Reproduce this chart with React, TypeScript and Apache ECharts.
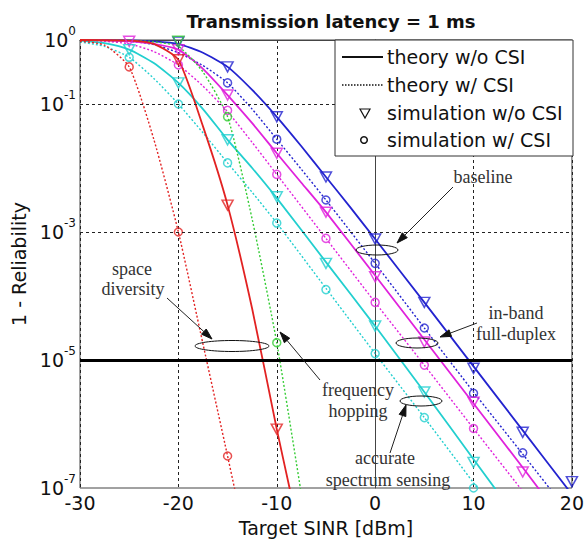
import React, { useEffect, useRef } from "react";
import * as echarts from "echarts";

// ---- axis ticks ----
const xTicks = [-30, -20, -10, 0, 10, 20];
const yLabelExponents = [0, -1, -3, -5, -7];
const dashedGridExponents = [-1, -3];
const thresholdExponent = -5;

// ---- theory curves: [Target SINR (dB), log10(1 - Reliability)] ----
const baselineTheoryNoCsi: [number, number][] = [
  [-30, 0], [-25, -0.005], [-22.5, -0.02], [-20, -0.06], [-17.5, -0.2], [-15, -0.42],
  [-12.5, -0.78], [-10, -1.2], [-7.5, -1.66], [-5, -2.14], [-2.5, -2.62], [0, -3.11],
  [5, -4.1], [10, -5.1], [15, -6.1], [20, -7.1],
];
const baselineTheoryCsi: [number, number][] = [
  [-30, 0], [-25, -0.02], [-22.5, -0.07], [-20, -0.2], [-17.5, -0.4], [-15, -0.67],
  [-12.5, -1.08], [-10, -1.55], [-7.5, -2.02], [-5, -2.5], [0, -3.49], [5, -4.5],
  [10, -5.5], [15, -6.47], [20, -7.45],
];
const ibfdTheoryNoCsi: [number, number][] = [
  [-30, 0], [-27.5, -0.005], [-25, -0.02], [-22.5, -0.06], [-20, -0.15], [-17.5, -0.45],
  [-15, -0.86], [-12.5, -1.3], [-10, -1.77], [-7.5, -2.23], [-5, -2.69], [0, -3.68],
  [5, -4.68], [10, -5.68], [15, -6.68], [20, -7.7],
];
const ibfdTheoryCsi: [number, number][] = [
  [-30, -0.005], [-27.5, -0.02], [-25, -0.06], [-22.5, -0.18], [-20, -0.39], [-17.5, -0.72],
  [-15, -1.12], [-12.5, -1.6], [-10, -2.1], [-5, -3.1], [0, -4.1], [5, -5.08],
  [10, -6.07], [15, -7.05],
];
const sensingTheoryNoCsi: [number, number][] = [
  [-30, -0.01], [-27.5, -0.05], [-25, -0.15], [-22.5, -0.36], [-20, -0.67], [-17.5, -1.08],
  [-15, -1.56], [-12.5, -2.0], [-10, -2.47], [-5, -3.47], [0, -4.47], [5, -5.5],
  [10, -6.55], [15, -7.6],
];
const sensingTheoryCsi: [number, number][] = [
  [-30, -0.03], [-27.5, -0.1], [-25, -0.27], [-22.5, -0.6], [-20, -1.0], [-17.5, -1.45],
  [-15, -1.92], [-12.5, -2.38], [-10, -2.86], [-5, -3.88], [0, -4.9], [5, -5.9],
  [10, -6.92], [12.5, -7.45],
];
const hoppingTheoryCsi: [number, number][] = [
  [-30, 0], [-25, -0.005], [-22.5, -0.03], [-20, -0.1], [-17.5, -0.5], [-15, -1.2],
  [-12.5, -2.8], [-10, -4.73], [-7.5, -7.1],
];
const diversityTheoryNoCsi: [number, number][] = [
  [-30, 0], [-25, -0.01], [-22.5, -0.06], [-20, -0.31], [-17.5, -1.35], [-15, -2.58],
  [-12.5, -4.2], [-10, -6.08], [-8.7, -7.0], [-8.3, -7.3],
];
const diversityTheoryCsi: [number, number][] = [
  [-30, -0.02], [-27.5, -0.08], [-25, -0.42], [-22.5, -1.55], [-20, -3.0], [-17.5, -4.75],
  [-15, -6.5], [-14.3, -7.0], [-14, -7.2],
];

// ---- simulation points ----
const baselineSimNoCsi: [number, number][] = [
  [-20, -0.03], [-15, -0.42], [-10, -1.2], [-5, -2.14], [0, -3.11], [5, -4.1],
  [10, -5.13], [15, -6.13], [20, -6.9],
];
const baselineSimCsi: [number, number][] = [
  [-15, -0.67], [-10, -1.55], [-5, -2.5], [0, -3.49], [5, -4.5], [10, -5.52], [15, -6.45],
];
const ibfdSimNoCsi: [number, number][] = [
  [-25, -0.02], [-20, -0.15], [-15, -0.86], [-10, -1.77], [-5, -2.69], [0, -3.7],
  [5, -4.72], [10, -5.66], [15, -6.75],
];
const ibfdSimCsi: [number, number][] = [
  [-20, -0.39], [-15, -1.1], [-10, -2.1], [-5, -3.1], [0, -4.1], [5, -5.08], [10, -6.07],
];
const sensingSimNoCsi: [number, number][] = [
  [-25, -0.15], [-20, -0.67], [-15, -1.56], [-10, -2.45], [-5, -3.49], [0, -4.47],
  [5, -5.5], [10, -6.6],
];
const sensingSimCsi: [number, number][] = [
  [-25, -0.27], [-20, -1.0], [-15, -1.92], [-10, -2.86], [-5, -3.9], [0, -4.9],
  [5, -5.9], [10, -7.0],
];
const hoppingSimNoCsi: [number, number][] = [[-20, -0.02]];
const hoppingSimCsi: [number, number][] = [[-15, -1.2], [-10, -4.73]];
const diversitySimNoCsi: [number, number][] = [[-20, -0.31], [-15, -2.58], [-10, -6.08]];
const diversitySimCsi: [number, number][] = [[-25, -0.42], [-20, -3.0], [-15, -6.5]];

const legendLabels = ["theory w/o CSI", "theory w/ CSI", "simulation w/o CSI", "simulation w/ CSI"];

const BLUE = "#2323cf";
const MAGENTA = "#e022dc";
const CYAN = "#22cfcf";
const GREEN = "#35cc35";
const RED = "#e22222";

const SANS = "DejaVu Sans";
const SERIF = "Liberation Serif";

function theory(name: string, data: [number, number][], color: string, dotted: boolean) {
  return {
    type: "line",
    name,
    data,
    smooth: 0.2,
    showSymbol: false,
    symbol: "none",
    silent: true,
    z: 3,
    lineStyle: { color, width: dotted ? 1.4 : 1.8, type: dotted ? [2, 2] : "solid" },
  };
}

function sim(name: string, data: [number, number][], color: string, triangle: boolean) {
  return {
    type: "scatter",
    name,
    data,
    silent: true,
    z: 4,
    symbol: triangle ? "triangle" : "circle",
    symbolRotate: triangle ? 180 : 0,
    symbolSize: triangle ? [11, 10] : 8,
    itemStyle: { color: "rgba(255,255,255,0)", borderColor: color, borderWidth: 1.5 },
  };
}

function arrow(x1: number, y1: number, x2: number, y2: number) {
  const dx = x2 - x1;
  const dy = y2 - y1;
  const len = Math.sqrt(dx * dx + dy * dy);
  const ux = dx / len;
  const uy = dy / len;
  const hl = 11;
  const hw = 3.5;
  const bx = x2 - ux * hl;
  const by = y2 - uy * hl;
  return [
    {
      type: "line",
      shape: { x1, y1, x2: bx, y2: by },
      style: { stroke: "#222", lineWidth: 1 },
      z: 100,
    },
    {
      type: "polygon",
      shape: {
        points: [
          [x2, y2],
          [bx - uy * hw, by + ux * hw],
          [bx + uy * hw, by - ux * hw],
        ],
      },
      style: { fill: "#111", stroke: "#111" },
      z: 100,
    },
  ];
}

function annoText(text: string, x: number, y: number) {
  return {
    type: "text",
    x,
    y,
    z: 100,
    style: {
      text,
      fontSize: 18,
      fontFamily: SERIF,
      fill: "#333",
      textAlign: "center",
      textVerticalAlign: "middle",
      align: "center",
      verticalAlign: "middle",
    },
  };
}

function ellipse(cx: number, cy: number, rx: number, ry: number) {
  return {
    type: "ellipse",
    z: 100,
    shape: { cx, cy, rx, ry },
    style: { fill: "none", stroke: "#111", lineWidth: 1 },
  };
}

function legendGraphic() {
  const x0 = 335;
  const y0 = 40;
  const rows = [57, 85, 113, 140];
  const els: any[] = [
    {
      type: "rect",
      z: 110,
      shape: { x: x0, y: y0, width: 238, height: 116 },
      style: { fill: "#fff", stroke: "#333", lineWidth: 1 },
    },
    {
      type: "line",
      z: 111,
      shape: { x1: 342, y1: rows[0], x2: 383, y2: rows[0] },
      style: { stroke: "#111", lineWidth: 1.8 },
    },
    {
      type: "line",
      z: 111,
      shape: { x1: 342, y1: rows[1], x2: 383, y2: rows[1] },
      style: { stroke: "#111", lineWidth: 1.3, lineDash: [1.5, 1.5] },
    },
    {
      type: "polygon",
      z: 111,
      shape: { points: [[360, rows[2] - 4], [370, rows[2] - 4], [365, rows[2] + 5]] },
      style: { fill: "none", stroke: "#111", lineWidth: 1.2 },
    },
    {
      type: "circle",
      z: 111,
      shape: { cx: 364, cy: rows[3], r: 3.3 },
      style: { fill: "none", stroke: "#111", lineWidth: 1.5 },
    },
  ];
  legendLabels.forEach((t, i) => {
    els.push({
      type: "text",
      z: 111,
      x: 387,
      y: rows[i],
      style: {
        text: t,
        fontSize: 19,
        fontFamily: SANS,
        fill: "#111",
        textAlign: "left",
        textVerticalAlign: "middle",
        align: "left",
        verticalAlign: "middle",
      },
    });
  });
  return els;
}

export default function App() {
  const ref = useRef<HTMLDivElement>(null);

  useEffect(() => {
    if (!ref.current) return;
    const chart = echarts.init(ref.current, undefined, { renderer: "svg" });

    const option: any = {
      animation: false,
      backgroundColor: "#fff",
      title: {
        text: "Transmission latency = 1 ms",
        left: 326,
        textAlign: "center",
        top: 7,
        textStyle: { fontFamily: SANS, fontWeight: "bold", fontSize: 18, color: "#111" },
      },
      grid: {
        left: 80,
        right: 14,
        top: 40,
        bottom: 57,
        show: true,
        borderColor: "#444",
        borderWidth: 1,
        backgroundColor: "#fff",
      },
      xAxis: {
        type: "value",
        min: xTicks[0],
        max: xTicks[xTicks.length - 1],
        interval: 10,
        name: "Target SINR [dBm]",
        nameLocation: "middle",
        nameGap: 30,
        nameTextStyle: { fontFamily: SANS, fontSize: 19, color: "#111" },
        axisLine: { show: true, lineStyle: { color: "#444", width: 1 } },
        axisTick: { show: false },
        axisLabel: { fontFamily: SANS, fontSize: 19, color: "#111", margin: 5 },
        splitLine: { show: true, lineStyle: { color: "#222", type: [3, 3], width: 1 } },
      },
      yAxis: {
        type: "value",
        min: -7,
        max: 0,
        interval: 1,
        name: "1 - Reliability",
        nameLocation: "middle",
        nameGap: 45,
        nameTextStyle: { fontFamily: SANS, fontSize: 19, color: "#111" },
        axisLine: { show: true, lineStyle: { color: "#444", width: 1 } },
        axisTick: { show: false },
        splitLine: { show: false },
        axisLabel: {
          margin: 4,
          formatter: (v: number) =>
            yLabelExponents.indexOf(Math.round(v)) >= 0 ? `{b|10}{s|${Math.round(v)}}` : "",
          rich: {
            b: { fontFamily: SANS, fontSize: 19, color: "#111", lineHeight: 30 },
            s: { fontFamily: SANS, fontSize: 12, color: "#111", verticalAlign: "top", lineHeight: 12 },
          },
        },
      },
      graphic: [
        ...legendGraphic(),
        ellipse(377, 250, 21, 5),
        ellipse(417, 343, 21, 5),
        ellipse(421, 401, 21, 5),
        ellipse(232, 346, 37, 5.5),
        ...arrow(453, 187, 397, 243),
        ...arrow(477, 323, 440, 337),
        ...arrow(167, 298, 212, 339),
        ...arrow(320, 380, 280, 332),
        ...arrow(390, 453, 406, 405),
        annoText("baseline", 483, 177),
        annoText("in-band", 516, 313),
        annoText("full-duplex", 516, 334),
        annoText("space", 132, 269),
        annoText("diversity", 133, 289),
        annoText("frequency", 358, 390),
        annoText("hopping", 358, 411),
        annoText("accurate", 385, 458),
        annoText("spectrum sensing", 388, 480),
      ],
      series: [
        {
          type: "line",
          name: "grid",
          data: [],
          silent: true,
          z: 1,
          markLine: {
            silent: true,
            symbol: ["none", "none"],
            label: { show: false },
            data: [
              ...dashedGridExponents.map((e) => ({
                yAxis: e,
                lineStyle: { color: "#222", type: [3, 3], width: 1 },
              })),
              { yAxis: thresholdExponent, lineStyle: { color: "#000", type: "solid", width: 3 } },
            ],
          },
        },
        theory("baseline w/o CSI", baselineTheoryNoCsi, BLUE, false),
        theory("baseline w/ CSI", baselineTheoryCsi, BLUE, true),
        theory("ibfd w/o CSI", ibfdTheoryNoCsi, MAGENTA, false),
        theory("ibfd w/ CSI", ibfdTheoryCsi, MAGENTA, true),
        theory("sensing w/o CSI", sensingTheoryNoCsi, CYAN, false),
        theory("sensing w/ CSI", sensingTheoryCsi, CYAN, true),
        theory("hopping w/ CSI", hoppingTheoryCsi, GREEN, true),
        theory("diversity w/o CSI", diversityTheoryNoCsi, RED, false),
        theory("diversity w/ CSI", diversityTheoryCsi, RED, true),
        sim("baseline sim w/o CSI", baselineSimNoCsi, BLUE, true),
        sim("baseline sim w/ CSI", baselineSimCsi, BLUE, false),
        sim("ibfd sim w/o CSI", ibfdSimNoCsi, MAGENTA, true),
        sim("ibfd sim w/ CSI", ibfdSimCsi, MAGENTA, false),
        sim("sensing sim w/o CSI", sensingSimNoCsi, CYAN, true),
        sim("sensing sim w/ CSI", sensingSimCsi, CYAN, false),
        sim("hopping sim w/o CSI", hoppingSimNoCsi, GREEN, true),
        sim("hopping sim w/ CSI", hoppingSimCsi, GREEN, false),
        sim("diversity sim w/o CSI", diversitySimNoCsi, RED, true),
        sim("diversity sim w/ CSI", diversitySimCsi, RED, false),
      ],
    };

    chart.setOption(option);
    return () => chart.dispose();
  }, []);

  return (
    <div
      ref={ref}
      style={{ position: "absolute", left: 0, top: 0, width: 587, height: 545, background: "#fff" }}
    />
  );
}
